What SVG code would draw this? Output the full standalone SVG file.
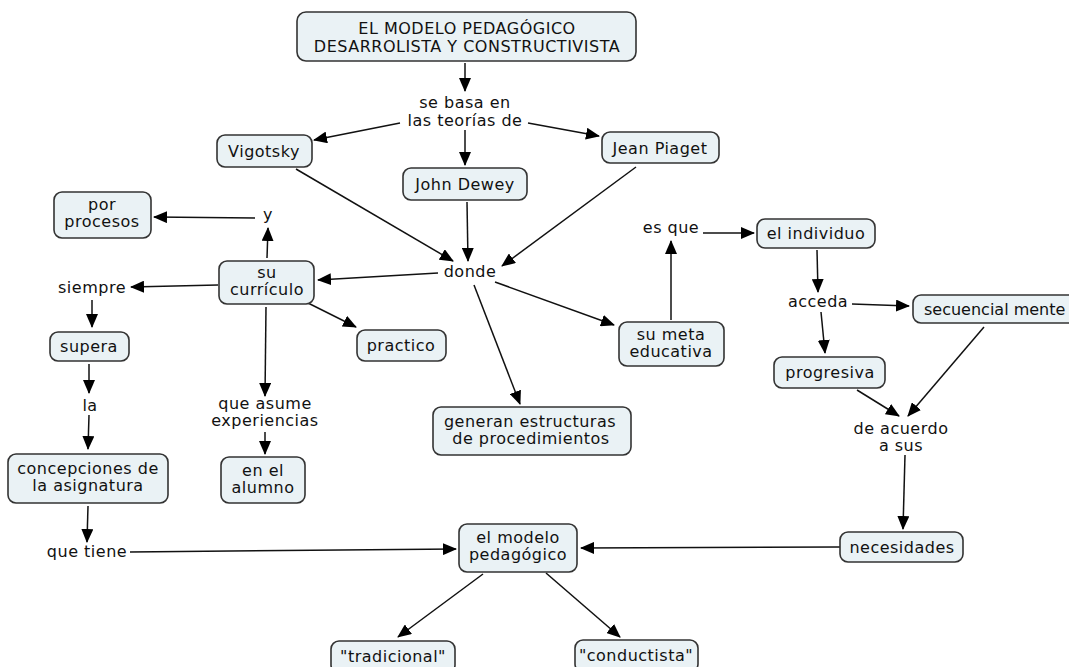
<svg xmlns="http://www.w3.org/2000/svg" width="1069" height="667" viewBox="0 0 1069 667">
<defs>
<marker id="ah" markerWidth="14" markerHeight="12" refX="13" refY="6" orient="auto" markerUnits="userSpaceOnUse">
<path d="M0,0 L14,6 L0,12 Z" fill="#000"/>
</marker>
<style>
.n rect{fill:#eaf2f5;stroke:#333;stroke-width:1.6}
text{font-family:"DejaVu Sans",Verdana,sans-serif;font-size:16px;letter-spacing:0.5px;fill:#111;text-anchor:middle}
.c line{stroke:#111;stroke-width:1.5;marker-end:url(#ah)}
</style>
</defs>
<rect width="1069" height="667" fill="#fff"/>
<g class="c">
<line x1="465" y1="63" x2="465" y2="91"/>
<line x1="400" y1="123" x2="314" y2="140"/>
<line x1="528" y1="123" x2="599" y2="136"/>
<line x1="465" y1="130" x2="465" y2="165"/>
<line x1="296" y1="169" x2="453" y2="261"/>
<line x1="467" y1="202" x2="468" y2="261"/>
<line x1="636" y1="167" x2="502" y2="266"/>
<line x1="438" y1="273" x2="318" y2="280"/>
<line x1="495" y1="282" x2="614" y2="325"/>
<line x1="671" y1="320" x2="671" y2="241"/>
<line x1="703" y1="233" x2="754" y2="233"/>
<line x1="267" y1="258" x2="268" y2="228"/>
<line x1="255" y1="218" x2="154" y2="217"/>
<line x1="218" y1="285" x2="131" y2="287"/>
<line x1="92" y1="300" x2="92" y2="327"/>
<line x1="89" y1="364" x2="89" y2="393"/>
<line x1="89" y1="415" x2="88" y2="449"/>
<line x1="88" y1="506" x2="87" y2="542"/>
<line x1="130" y1="552" x2="456" y2="549"/>
<line x1="308" y1="303" x2="356" y2="327"/>
<line x1="266" y1="307" x2="265" y2="396"/>
<line x1="265" y1="432" x2="265" y2="454"/>
<line x1="474" y1="285" x2="520" y2="404"/>
<line x1="817" y1="250" x2="818" y2="292"/>
<line x1="852" y1="304" x2="909" y2="306"/>
<line x1="821" y1="312" x2="825" y2="353"/>
<line x1="857" y1="390" x2="899" y2="416"/>
<line x1="984" y1="327" x2="908" y2="416"/>
<line x1="905" y1="455" x2="903" y2="529"/>
<line x1="840" y1="547" x2="581" y2="548"/>
<line x1="483" y1="574" x2="398" y2="637"/>
<line x1="546" y1="573" x2="620" y2="637"/>
</g>
<g id="title" class="n"><rect x="297" y="12" width="339" height="49" rx="9"/><text x="467" y="34">EL MODELO PEDAGÓGICO</text><text x="467" y="52">DESARROLISTA Y CONSTRUCTIVISTA</text></g>
<g id="sebasa"><text x="465" y="108">se basa en</text><text x="465" y="126">las teorías de</text></g>
<g id="vigotsky" class="n"><rect x="217" y="135" width="95" height="32" rx="8"/><text x="264" y="157">Vigotsky</text></g>
<g id="piaget" class="n"><rect x="602" y="132" width="117" height="31" rx="8"/><text x="660" y="154">Jean Piaget</text></g>
<g id="dewey" class="n"><rect x="403" y="168" width="124" height="32" rx="8"/><text x="465" y="190">John Dewey</text></g>
<g id="donde"><text x="470" y="277">donde</text></g>
<g id="esque"><text x="671" y="233">es que</text></g>
<g id="individuo" class="n"><rect x="757" y="219" width="118" height="29" rx="8"/><text x="816" y="239">el individuo</text></g>
<g id="meta" class="n"><rect x="619" y="322" width="105" height="44" rx="8"/><text x="671" y="340">su meta</text><text x="671" y="357">educativa</text></g>
<g id="curriculo" class="n"><rect x="219" y="261" width="95" height="43" rx="8"/><text x="267" y="278">su</text><text x="267" y="295">currículo</text></g>
<g id="y"><text x="268" y="220">y</text></g>
<g id="procesos" class="n"><rect x="54" y="192" width="97" height="46" rx="8"/><text x="102" y="210">por</text><text x="102" y="227">procesos</text></g>
<g id="siempre"><text x="92" y="293">siempre</text></g>
<g id="supera" class="n"><rect x="50" y="332" width="79" height="29" rx="8"/><text x="89" y="352">supera</text></g>
<g id="la"><text x="90" y="411">la</text></g>
<g id="concepciones" class="n"><rect x="8" y="454" width="160" height="49" rx="8"/><text x="88" y="474">concepciones de</text><text x="88" y="491">la asignatura</text></g>
<g id="quetiene"><text x="87" y="557">que tiene</text></g>
<g id="practico" class="n"><rect x="357" y="330" width="89" height="31" rx="8"/><text x="401" y="351">practico</text></g>
<g id="queasume"><text x="265" y="409">que asume</text><text x="265" y="426">experiencias</text></g>
<g id="alumno" class="n"><rect x="221" y="457" width="84" height="46" rx="8"/><text x="263" y="476">en el</text><text x="263" y="493">alumno</text></g>
<g id="generan" class="n"><rect x="433" y="407" width="198" height="48" rx="8"/><text x="530" y="427">generan estructuras</text><text x="531" y="444">de procedimientos</text></g>
<g id="acceda"><text x="818" y="307">acceda</text></g>
<g id="secuencial" class="n"><rect x="913" y="295" width="170" height="28" rx="8"/><text x="924" y="315" style="text-anchor:start;letter-spacing:0">secuencial mente</text></g>
<g id="progresiva" class="n"><rect x="774" y="357" width="111" height="31" rx="8"/><text x="830" y="378">progresiva</text></g>
<g id="deacuerdo"><text x="901" y="434">de acuerdo</text><text x="901" y="451">a sus</text></g>
<g id="necesidades" class="n"><rect x="840" y="532" width="123" height="30" rx="8"/><text x="902" y="553">necesidades</text></g>
<g id="modelo" class="n"><rect x="459" y="524" width="118" height="48" rx="8"/><text x="518" y="543">el modelo</text><text x="518" y="560">pedagógico</text></g>
<g id="tradicional" class="n"><rect x="331" y="641" width="124" height="32" rx="8"/><text x="393" y="662">"tradicional"</text></g>
<g id="conductista" class="n"><rect x="575" y="640" width="123" height="32" rx="8"/><text x="636" y="661">"conductista"</text></g>
</svg>
